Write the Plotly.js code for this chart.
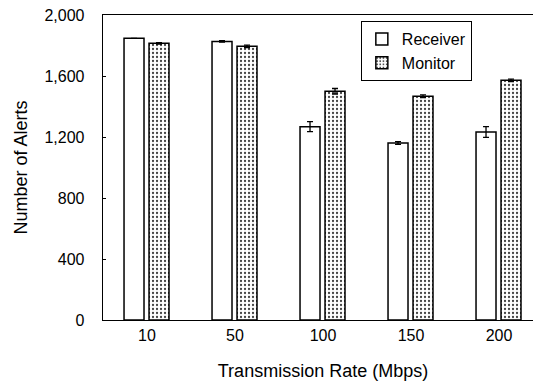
<!DOCTYPE html>
<html>
<head>
<meta charset="utf-8">
<script src="https://cdn.plot.ly/plotly-3.0.1.min.js"></script>
<style>html,body{margin:0;padding:0;overflow:hidden;background:#fff;}</style>
</head>
<body>
<div id="chart"></div>
<script>
const categories = ["10", "50", "100", "150", "200"];
const receiverValues = [1847, 1827, 1268, 1161, 1233];
const receiverErrors = [0, 4, 33, 9, 35];
const monitorValues = [1814, 1795, 1500, 1467, 1572];
const monitorErrors = [4, 8, 18, 9, 8];
const yTicks = [0, 400, 800, 1200, 1600, 2000];

const font = {family: "Liberation Sans, Arial, sans-serif", color: "#000"};

const traces = [
  {
    type: "bar", name: "Receiver", x: categories, y: receiverValues,
    legendgroup: "a",
    width: 0.227, offset: -0.261,
    marker: {color: "#fff", line: {color: "#000", width: 1.5}},
    error_y: {type: "data", array: receiverErrors, visible: true, color: "#000", thickness: 1.3, width: 3}
  },
  {
    type: "bar", name: "Monitor", x: categories, y: monitorValues,
    legendgroup: "b",
    width: 0.227, offset: 0.023,
    marker: {color: "#fff", line: {color: "#000", width: 1.5},
             pattern: {shape: ".", fgcolor: "#444", bgcolor: "#fff", size: 4, solidity: 0.25}},
    error_y: {type: "data", array: monitorErrors, visible: true, color: "#000", thickness: 1.3, width: 3}
  }
];

const layout = {
  width: 545, height: 383,
  margin: {l: 103, r: 2, t: 15, b: 63},
  paper_bgcolor: "#fff", plot_bgcolor: "#fff",
  font: Object.assign({size: 16}, font),
  showlegend: true,
  legend: {
    x: 0.586, xanchor: "left", y: 0.98, yanchor: "top",
    bordercolor: "#000", borderwidth: 1, bgcolor: "#fff",
    font: Object.assign({size: 16}, font),
    tracegroupgap: 0, itemwidth: 30
  },
  xaxis: {
    type: "category",
    showline: true, linecolor: "#000", linewidth: 1.3, mirror: true,
    ticks: "", showgrid: false,
    tickfont: Object.assign({size: 16}, font),
    title: {text: "Transmission Rate (Mbps)", font: Object.assign({size: 18}, font), standoff: 22}
  },
  yaxis: {
    range: [0, 2000], tickvals: yTicks, tickformat: ",d",
    showline: true, linecolor: "#000", linewidth: 1.3, mirror: true,
    ticks: "inside", ticklen: 3, tickcolor: "#000", tickwidth: 1,
    ticklabelstandoff: 14,
    showgrid: false, zeroline: false,
    tickfont: Object.assign({size: 16}, font),
    title: {text: "Number of Alerts", font: Object.assign({size: 18}, font), standoff: 12}
  }
};

Plotly.newPlot("chart", traces, layout, {displayModeBar: false, staticPlot: true});
</script>
</body>
</html>
